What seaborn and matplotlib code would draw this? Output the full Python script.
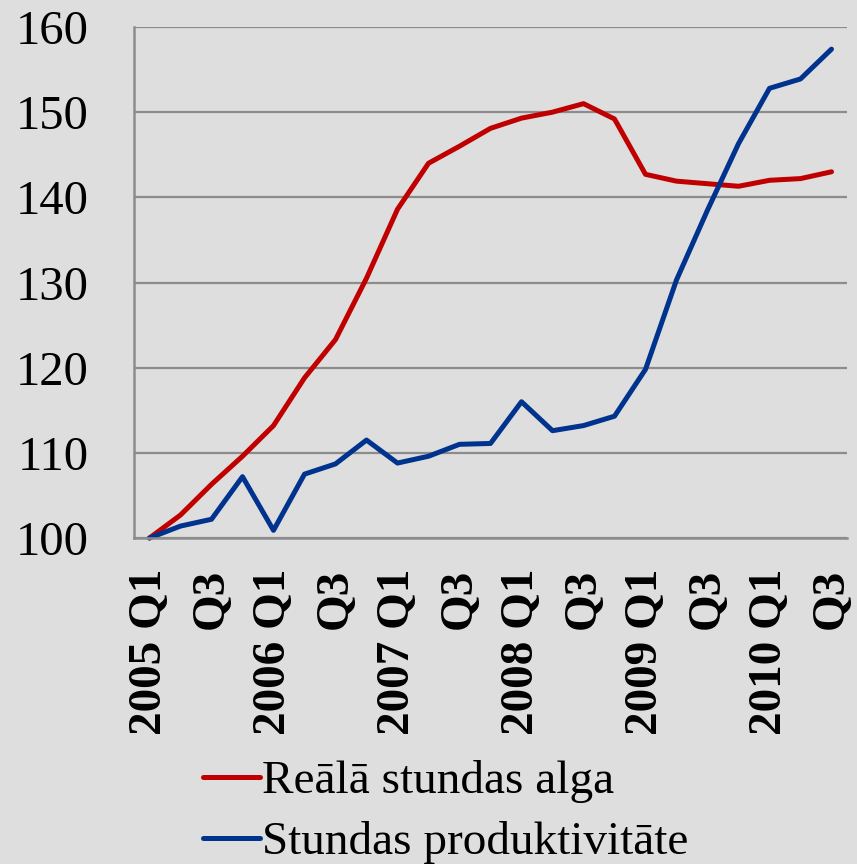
import numpy as np
import pandas as pd
import matplotlib
matplotlib.use("Agg")
import matplotlib.pyplot as plt
import seaborn as sns
from matplotlib.ticker import FixedLocator

# ---- data ----
quarters = [f"{y} Q{q}" for y in range(2005, 2011) for q in range(1, 5)][:23]
tick_labels = ["2005 Q1", "Q3", "2006 Q1", "Q3", "2007 Q1", "Q3",
               "2008 Q1", "Q3", "2009 Q1", "Q3", "2010 Q1", "Q3"]
real_wage = [100, 102.7, 106.3, 109.6, 113.2, 118.8, 123.3, 130.5, 138.6, 144.0,
             146.0, 148.1, 149.3, 150.0, 151.0, 149.2, 142.7, 141.9, 141.6, 141.3,
             142.0, 142.2, 143.0]
productivity = [100, 101.4, 102.2, 107.2, 100.9, 107.5, 108.7, 111.5, 108.8, 109.6,
                111.0, 111.1, 116.0, 112.6, 113.2, 114.3, 119.8, 130.3, 138.5, 146.3,
                152.8, 153.9, 157.4]
series_names = ["Reālā stundas alga", "Stundas produktivitāte"]
colors = ["#C00000", "#00338D"]

df = pd.concat([
    pd.DataFrame({"pos": np.arange(len(quarters)), "quarter": quarters,
                  "value": vals, "series": name})
    for name, vals in zip(series_names, [real_wage, productivity])
])

# ---- style ----
bg = "#DEDEDE"
grid_c = "#8C8C8C"
sns.set_style("white")
plt.rcParams["font.family"] = ["Liberation Serif", "DejaVu Serif"]
plt.rcParams["text.color"] = "black"
plt.rcParams["xtick.labelcolor"] = "black"
plt.rcParams["ytick.labelcolor"] = "black"

fig = plt.figure(figsize=(8.57, 8.64), dpi=100, facecolor=bg)
ax = fig.add_axes([134 / 857, 1 - 538 / 864, (847 - 134) / 857, (538 - 27) / 864])
ax.set_facecolor(bg)

sns.lineplot(data=df, x="pos", y="value", hue="series", hue_order=series_names,
             palette=dict(zip(series_names, colors)), linewidth=3.6, ax=ax,
             legend=False, sort=False)
for ln in ax.lines:
    ln.set_solid_joinstyle("round")
    ln.set_solid_capstyle("round")
    ln.set_clip_on(False)

ax.set_xlim(-0.5, len(quarters) - 0.5)
ax.set_ylim(100, 160)
ax.set_yticks(np.arange(100, 161, 10))
ax.xaxis.set_major_locator(FixedLocator(np.arange(0, len(quarters), 2)))
ax.set_xticklabels(tick_labels, rotation=90, fontweight="bold", fontsize=34,
                   color="black")
ax.xaxis.set_minor_locator(FixedLocator(np.arange(-0.5, len(quarters), 1)))
ax.tick_params(axis="x", which="major", length=0, pad=22)
ax.tick_params(axis="x", which="minor", length=10, width=1.6, color=grid_c)
ax.tick_params(axis="y", which="major", length=11.5, width=1.6, color=grid_c,
               labelsize=35, pad=21, labelcolor="black")
ax.set_xlabel("")
ax.set_ylabel("")

ax.yaxis.grid(True, color=grid_c, linewidth=1.6)
ax.xaxis.grid(False)
ax.set_axisbelow(True)
for s in ["top", "right"]:
    ax.spines[s].set_visible(False)
for s in ["left", "bottom"]:
    ax.spines[s].set_color(grid_c)
    ax.spines[s].set_linewidth(1.8)

handles = ax.lines[:2]
leg = fig.legend(handles, series_names, loc="upper left",
                 bbox_to_anchor=(203 / 857, 1 - 760 / 864), frameon=False,
                 fontsize=34, handlelength=1.2, handletextpad=0.05,
                 labelspacing=0.38, borderpad=0, borderaxespad=0)
for t in leg.get_texts():
    t.set_color("black")

fig.savefig("out.png", dpi=100, facecolor=bg)
